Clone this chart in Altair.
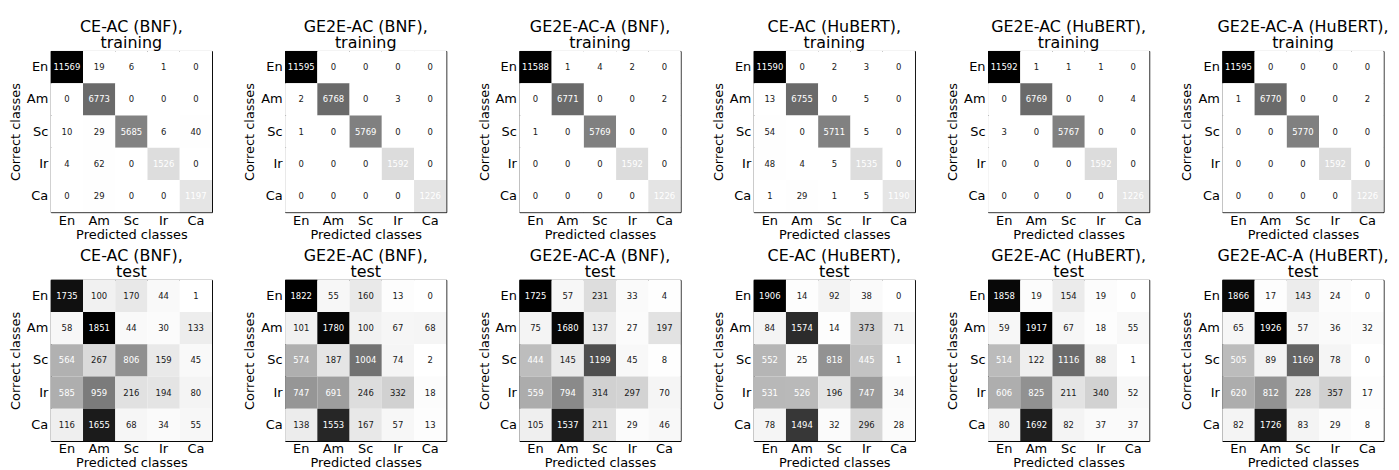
import altair as alt
import pandas as pd

classes = ["En", "Am", "Sc", "Ir", "Ca"]

titles_top = [
    ["CE-AC (BNF),", "training"],
    ["GE2E-AC (BNF),", "training"],
    ["GE2E-AC-A (BNF),", "training"],
    ["CE-AC (HuBERT),", "training"],
    ["GE2E-AC (HuBERT),", "training"],
    ["GE2E-AC-A (HuBERT),", "training"],
]
titles_bottom = [
    ["CE-AC (BNF),", "test"],
    ["GE2E-AC (BNF),", "test"],
    ["GE2E-AC-A (BNF),", "test"],
    ["CE-AC (HuBERT),", "test"],
    ["GE2E-AC (HuBERT),", "test"],
    ["GE2E-AC-A (HuBERT),", "test"],
]

# rows = correct class, columns = predicted class
ce_bnf_train = [
    [11569, 19, 6, 1, 0],
    [0, 6773, 0, 0, 0],
    [10, 29, 5685, 6, 40],
    [4, 62, 0, 1526, 0],
    [0, 29, 0, 0, 1197],
]
ge2e_bnf_train = [
    [11595, 0, 0, 0, 0],
    [2, 6768, 0, 3, 0],
    [1, 0, 5769, 0, 0],
    [0, 0, 0, 1592, 0],
    [0, 0, 0, 0, 1226],
]
ge2ea_bnf_train = [
    [11588, 1, 4, 2, 0],
    [0, 6771, 0, 0, 2],
    [1, 0, 5769, 0, 0],
    [0, 0, 0, 1592, 0],
    [0, 0, 0, 0, 1226],
]
ce_hub_train = [
    [11590, 0, 2, 3, 0],
    [13, 6755, 0, 5, 0],
    [54, 0, 5711, 5, 0],
    [48, 4, 5, 1535, 0],
    [1, 29, 1, 5, 1190],
]
ge2e_hub_train = [
    [11592, 1, 1, 1, 0],
    [0, 6769, 0, 0, 4],
    [3, 0, 5767, 0, 0],
    [0, 0, 0, 1592, 0],
    [0, 0, 0, 0, 1226],
]
ge2ea_hub_train = [
    [11595, 0, 0, 0, 0],
    [1, 6770, 0, 0, 2],
    [0, 0, 5770, 0, 0],
    [0, 0, 0, 1592, 0],
    [0, 0, 0, 0, 1226],
]
ce_bnf_test = [
    [1735, 100, 170, 44, 1],
    [58, 1851, 44, 30, 133],
    [564, 267, 806, 159, 45],
    [585, 959, 216, 194, 80],
    [116, 1655, 68, 34, 55],
]
ge2e_bnf_test = [
    [1822, 55, 160, 13, 0],
    [101, 1780, 100, 67, 68],
    [574, 187, 1004, 74, 2],
    [747, 691, 246, 332, 18],
    [138, 1553, 167, 57, 13],
]
ge2ea_bnf_test = [
    [1725, 57, 231, 33, 4],
    [75, 1680, 137, 27, 197],
    [444, 145, 1199, 45, 8],
    [559, 794, 314, 297, 70],
    [105, 1537, 211, 29, 46],
]
ce_hub_test = [
    [1906, 14, 92, 38, 0],
    [84, 1574, 14, 373, 71],
    [552, 25, 818, 445, 1],
    [531, 526, 196, 747, 34],
    [78, 1494, 32, 296, 28],
]
ge2e_hub_test = [
    [1858, 19, 154, 19, 0],
    [59, 1917, 67, 18, 55],
    [514, 122, 1116, 88, 1],
    [606, 825, 211, 340, 52],
    [80, 1692, 82, 37, 37],
]
ge2ea_hub_test = [
    [1866, 17, 143, 24, 0],
    [65, 1926, 57, 36, 32],
    [505, 89, 1169, 78, 0],
    [620, 812, 228, 357, 17],
    [82, 1726, 83, 29, 8],
]

top_mats = [ce_bnf_train, ge2e_bnf_train, ge2ea_bnf_train,
            ce_hub_train, ge2e_hub_train, ge2ea_hub_train]
bottom_mats = [ce_bnf_test, ge2e_bnf_test, ge2ea_bnf_test,
               ce_hub_test, ge2e_hub_test, ge2ea_hub_test]

FONT = "DejaVu Sans"
W, H = 162, 162


def panel(title, mat):
    rows = []
    for i, t in enumerate(classes):
        for j, p in enumerate(classes):
            rows.append({"true": t, "pred": p, "value": mat[i][j]})
    df = pd.DataFrame(rows)
    base = alt.Chart(df).encode(
        x=alt.X("pred:N", sort=classes, title="Predicted classes",
                scale=alt.Scale(paddingInner=0, paddingOuter=0),
                axis=alt.Axis(labelAngle=0)),
        y=alt.Y("true:N", sort=classes, title="Correct classes",
                scale=alt.Scale(paddingInner=0, paddingOuter=0)),
    )
    rect = base.mark_rect().encode(
        color=alt.Color("value:Q", legend=None,
                        scale=alt.Scale(zero=True, nice=False,
                                        range=["#ffffff", "#000000"],
                                        interpolate="rgb"))
    )
    text = base.mark_text(fontSize=8.5, font=FONT).encode(
        text="value:Q",
        color=alt.condition("datum.value > 400", alt.value("#ffffff"), alt.value("#1a1a1a")),
    )
    return alt.layer(rect, text).properties(
        width=W, height=H,
        title=alt.TitleParams(title, fontSize=16, font=FONT, fontWeight="normal",
                              color="black", lineHeight=16, offset=0, anchor="middle"),
    )


panels = [panel(t, m) for t, m in zip(titles_top, top_mats)] + \
         [panel(t, m) for t, m in zip(titles_bottom, bottom_mats)]

chart = alt.ConcatChart(
    concat=panels, columns=6,
    spacing=alt.RowColnumber(row=68, column=73.5),
    bounds="flush",
).resolve_scale(
    color="independent"
).configure_view(
    stroke="black", strokeWidth=1
).configure_axis(
    labelFont=FONT, titleFont=FONT, labelFontSize=13, titleFontSize=13,
    titleFontWeight="normal", labelColor="black", titleColor="black",
    ticks=False, domain=False, grid=False,
).configure_axisY(titlePadding=4, labelPadding=3).configure_axisX(
    titlePadding=1, labelPadding=2
).properties(
    padding={"left": 0, "top": 9, "right": 1, "bottom": 2}
)

chart.save("out.html", embed_options={"renderer": "svg", "actions": False})
